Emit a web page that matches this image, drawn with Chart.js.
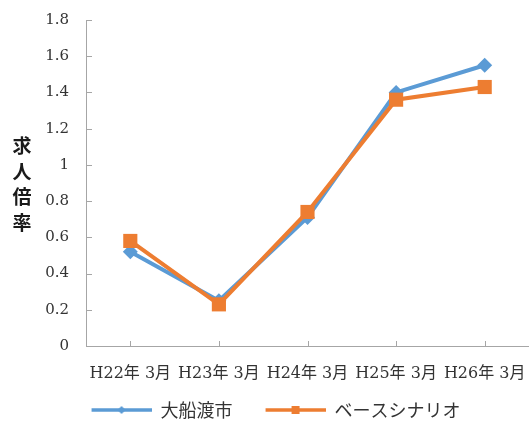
<!DOCTYPE html>
<html>
<head>
<meta charset="utf-8">
<script src="https://cdn.jsdelivr.net/npm/chart.js@4"></script>
<style>
  html, body { margin: 0; padding: 0; background: #fff; }
  #wrap { width: 529px; height: 434px; }
</style>
</head>
<body>
<div id="wrap"><canvas id="jobChart"></canvas></div>
<script>
// Data
const categories = ['H22年 3月', 'H23年 3月', 'H24年 3月', 'H25年 3月', 'H26年 3月'];
const ofunatoValues = [0.52, 0.25, 0.71, 1.40, 1.55];
const baseScenarioValues = [0.58, 0.23, 0.74, 1.36, 1.43];
const yTicks = [0, 0.2, 0.4, 0.6, 0.8, 1, 1.2, 1.4, 1.6, 1.8];
const seriesNames = ['大船渡市', 'ベースシナリオ'];
const yTitle = '求人倍率';

const colorBlue = '#5b9bd5';
const colorOrange = '#ed7d31';
const colorAxis = '#a6a6a6';
const colorText = '#333333';

// Legend sample: line with marker, transparent margin on the left
const makeLegendImage = (color, marker) => {
  const c = document.createElement('canvas');
  c.width = 83;
  c.height = 14;
  const g = c.getContext('2d');
  g.strokeStyle = color;
  g.lineWidth = 3.5;
  g.beginPath();
  g.moveTo(23, 7);
  g.lineTo(83, 7);
  g.stroke();
  g.fillStyle = color;
  if (marker === 'diamond') {
    g.beginPath();
    g.moveTo(53, 3);
    g.lineTo(57, 7);
    g.lineTo(53, 11);
    g.lineTo(49, 7);
    g.closePath();
    g.fill();
  } else {
    g.fillRect(49, 3, 8, 8);
  }
  return c;
};

const legendImages = [makeLegendImage(colorBlue, 'diamond'), makeLegendImage(colorOrange, 'square')];

// Axis lines, inner tick marks and the stacked y title
const axisPlugin = {
  id: 'axisPlugin',
  beforeDatasetsDraw(chart) {
    const { ctx, chartArea, scales } = chart;
    const { left, right, top, bottom } = chartArea;
    ctx.save();
    ctx.strokeStyle = colorAxis;
    ctx.lineWidth = 1;
    ctx.beginPath();
    ctx.moveTo(left + 0.5, top);
    ctx.lineTo(left + 0.5, bottom + 0.5);
    ctx.lineTo(right, bottom + 0.5);
    scales.y.ticks.forEach((t, i) => {
      const y = Math.round(scales.y.getPixelForTick(i)) + 0.5;
      ctx.moveTo(left, y);
      ctx.lineTo(left + 6, y);
    });
    categories.forEach((c, i) => {
      const x = Math.round(scales.x.getPixelForTick(i)) + 0.5;
      ctx.moveTo(x, bottom);
      ctx.lineTo(x, bottom - 5);
    });
    ctx.stroke();
    ctx.restore();
  },
  afterDraw(chart) {
    const { ctx } = chart;
    ctx.save();
    ctx.fillStyle = '#1a1a1a';
    ctx.font = 'bold 19px "Noto Sans CJK JP"';
    ctx.textAlign = 'center';
    ctx.textBaseline = 'middle';
    [...yTitle].forEach((ch, i) => {
      ctx.fillText(ch, 22, 146 + i * 25.5);
    });
    ctx.restore();
  },
};

const lineOptions = {
  type: 'line',
  data: {
    labels: categories,
    datasets: [
      {
        label: seriesNames[0],
        data: ofunatoValues,
        borderColor: colorBlue,
        backgroundColor: colorBlue,
        borderWidth: 4,
        pointStyle: 'rectRot',
        pointRadius: 7.5,
        pointHoverRadius: 7.5,
        pointBorderWidth: 0,
        order: 1,
      },
      {
        label: seriesNames[1],
        data: baseScenarioValues,
        borderColor: colorOrange,
        backgroundColor: colorOrange,
        borderWidth: 4,
        pointStyle: 'rect',
        pointRadius: 10,
        pointHoverRadius: 10,
        pointBorderWidth: 0,
        order: 0,
      },
    ],
  },
  options: {
    responsive: true,
    maintainAspectRatio: false,
    animation: false,
    layout: {
      autoPadding: false,
      padding: { top: 20, right: 0, bottom: 5, left: 0 },
    },
    plugins: {
      tooltip: { enabled: false },
      legend: {
        position: 'bottom',
        labels: {
          usePointStyle: true,
          pointStyleWidth: 83,
          padding: 10,
          color: colorText,
          font: { family: '"Noto Sans CJK JP"', size: 18 },
          generateLabels: () =>
            seriesNames.map((name, i) => ({
              text: name,
              pointStyle: legendImages[i],
              fillStyle: 'transparent',
              strokeStyle: 'transparent',
              lineWidth: 0,
              hidden: false,
              datasetIndex: i,
              fontColor: colorText,
            })),
        },
      },
    },
    scales: {
      x: {
        offset: true,
        grid: { display: false, offset: false, drawTicks: false },
        border: { display: false },
        ticks: {
          padding: 18,
          maxRotation: 0,
          autoSkip: false,
          color: colorText,
          font: { family: '"DejaVu Serif", "Noto Sans CJK JP"', size: 16 },
        },
        afterFit: scale => {
          scale.height = 45;
          scale.paddingLeft = 0;
          scale.paddingRight = 0;
        },
      },
      y: {
        min: 0,
        max: 1.8,
        grid: { display: false, drawTicks: false },
        border: { display: false },
        afterBuildTicks: scale => {
          scale.ticks = yTicks.map(v => ({ value: v }));
        },
        ticks: {
          padding: 17,
          color: colorText,
          font: { family: '"DejaVu Serif"', size: 15 },
          callback: value => String(+value.toFixed(1)),
        },
        afterFit: scale => {
          scale.width = 86;
          scale.paddingTop = 0;
          scale.paddingBottom = 0;
        },
      },
    },
  },
  plugins: [axisPlugin],
};

const chart = new Chart(document.getElementById('jobChart').getContext('2d'), lineOptions);
</script>
</body>
</html>
